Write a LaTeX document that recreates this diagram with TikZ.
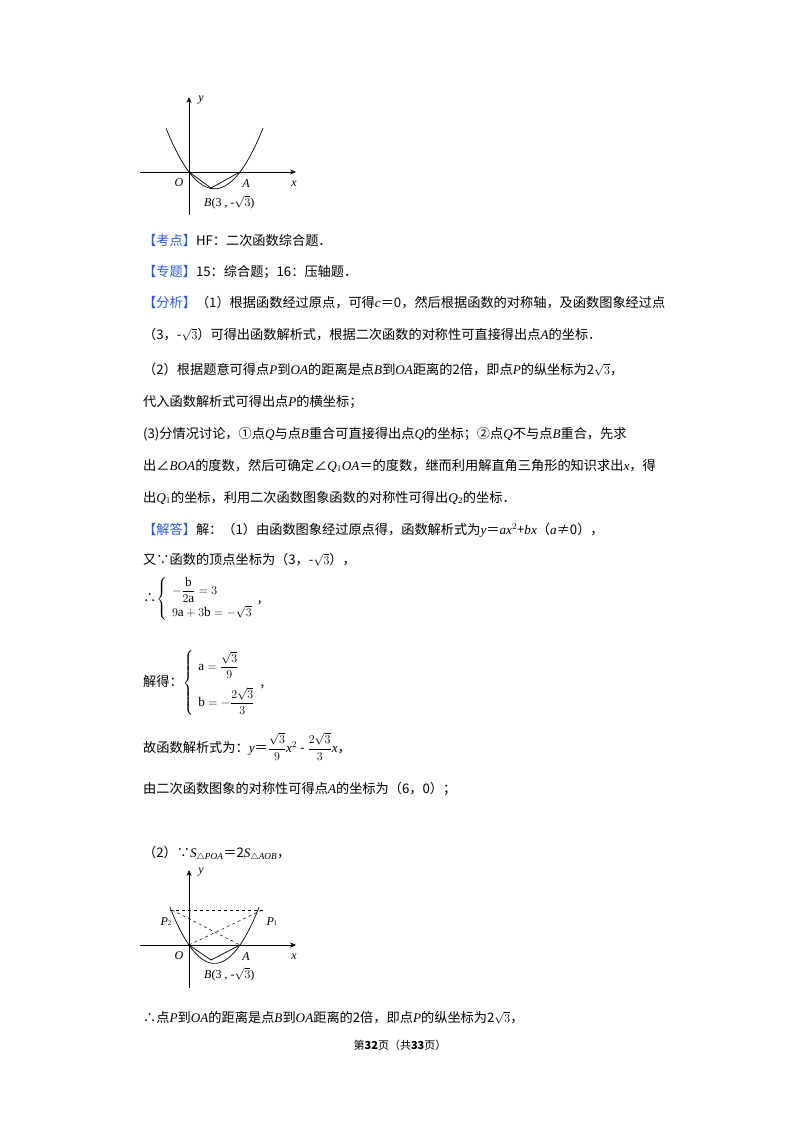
\documentclass[tikz,border=0pt]{standalone}
\usepackage{amsmath}
\usepackage{fontspec}
\usetikzlibrary{arrows.meta}
\setmainfont{Liberation Serif}
\newfontfamily\cjk{Noto Sans CJK SC}
\newfontfamily\lser{Liberation Serif}
\newcommand\va[1]{{\lser\itshape #1}}
\newcommand\rt{\ensuremath{\sqrt{3}}}
\definecolor{kb}{RGB}{40,90,220}
\begin{document}
\begin{tikzpicture}[x=1pt,y=-1pt,
  tx/.style={anchor=base west,inner sep=0pt,font=\fontsize{13.2}{15}\selectfont\cjk},
  ax/.style={-{Stealth[length=6pt,width=5pt]},line width=0.6pt},
  cv/.style={line width=0.7pt},
  lb/.style={inner sep=0pt,font=\fontsize{12}{14}\selectfont\lser\itshape}]
\useasboundingbox[fill=white] (0,0) rectangle (800,1132);
% graph 1
\draw[ax] (140,172) -- (296,172);
\draw[ax] (189,215) -- (189,97);
\draw[cv] plot[domain=-1.8:5.8,samples=60] ({189+\x*12.75},{172-(\x*\x-4*\x)*4.2});
\draw[cv] (189,172) -- (211,188) -- (240,172);
\node[lb] (y1) at (201,100) {y};
\node[lb] (x1) at (294,184) {x};
\node[lb] (o1) at (179,183) {O};
\node[lb] (a1) at (246,184) {A};
\node[lb,anchor=west] (b1) at (204,202) {B{\upshape(3 , -\rt)}};
% texts
\node[tx] (t1) at (143,245) {{\color{kb}【考点】}HF：二次函数综合题．};
\node[tx] (t2) at (143,276) {{\color{kb}【专题】}15：综合题；16：压轴题．};
\node[tx] (t3) at (143,307) {{\color{kb}【分析】}（1）根据函数经过原点，可得\va{c}＝0，然后根据函数的对称轴，及函数图象经过点};
\node[tx] (t4) at (143,339) {（3，-\rt）可得出函数解析式，根据二次函数的对称性可直接得出点\va{A}的坐标．};
\node[tx] (t5) at (143,374) {（2）根据题意可得点\va{P}到\va{OA}的距离是点\va{B}到\va{OA}距离的2倍，即点\va{P}的纵坐标为2\rt，};
\node[tx] (t6) at (143,406) {代入函数解析式可得出点\va{P}的横坐标；};
\node[tx] (t7) at (143,438) {(3)分情况讨论，①点\va{Q}与点\va{B}重合可直接得出点\va{Q}的坐标；②点\va{Q}不与点\va{B}重合，先求};
\node[tx] (t8) at (143,470) {出∠\va{BOA}的度数，然后可确定∠\va{Q}$_1$\va{OA}＝的度数，继而利用解直角三角形的知识求出\va{x}，得};
\node[tx] (t9) at (143,502) {出\va{Q}$_1$的坐标，利用二次函数图象函数的对称性可得出\va{Q}$_2$的坐标．};
\node[tx] (t10) at (143,534) {{\color{kb}【解答】}解：（1）由函数图象经过原点得，函数解析式为\va{y}＝\va{ax}$^2$+\va{bx}（\va{a}≠0），};
\node[tx] (t11) at (143,564) {又∵函数的顶点坐标为（3，-\rt），};
\node[tx] (t12) at (143,602) {∴$\left\{\begin{array}{l}-\dfrac{\mathrm{b}}{2\mathrm{a}}=3\\[6pt] 9\mathrm{a}+3\mathrm{b}=-\sqrt{3}\end{array}\right.$,};
\node[tx] (t13) at (143,686) {解得：$\left\{\begin{array}{l}\mathrm{a}=\dfrac{\sqrt{3}}{9}\\[12pt] \mathrm{b}=-\dfrac{2\sqrt{3}}{3}\end{array}\right.$,};
\node[tx] (t14) at (143,752) {故函数解析式为：\va{y}＝$\dfrac{\sqrt{3}}{9}$\va{x}$^2$ - $\dfrac{2\sqrt{3}}{3}$\va{x}，};
\node[tx] (t15) at (143,793) {由二次函数图象的对称性可得点\va{A}的坐标为（6，0）；};
\node[tx] (t16) at (143,857) {（2）∵\va{S}$_{\triangle \mathit{POA}}$＝2\va{S}$_{\triangle \mathit{AOB}}$，};
% graph 2
\draw[ax] (140,945) -- (296,945);
\draw[ax] (189,988) -- (189,870);
\draw[cv] plot[domain=-1.5:5.5,samples=60] ({189+\x*12.75},{945-(\x*\x-4*\x)*4.6});
\draw[cv] (189,945) -- (211,960) -- (240,945);
\draw[dashed,line width=0.5pt] (170,910) -- (265,910);
\draw[dashed,line width=0.5pt] (172,910) -- (240,945);
\draw[dashed,line width=0.5pt] (189,945) -- (262,910);
\node[lb] (y2) at (201,872) {y};
\node[lb] (x2) at (294,957) {x};
\node[lb] (o2) at (179,956) {O};
\node[lb] (a2) at (246,957) {A};
\node[lb] (p2) at (166,922) {P{\upshape\scriptsize 2}};
\node[lb] (p1) at (272,922) {P{\upshape\scriptsize 1}};
\node[lb,anchor=west] (b2) at (204,974) {B{\upshape(3 , -\rt)}};
\node[tx] (t17) at (143,1022) {∴点\va{P}到\va{OA}的距离是点\va{B}到\va{OA}距离的2倍，即点\va{P}的纵坐标为2\rt，};
\node[tx,anchor=base] (ft) at (400,1049) {\fontsize{11}{13}\selectfont 第\textbf{32}页（共\textbf{33}页）};
\end{tikzpicture}
\end{document}
